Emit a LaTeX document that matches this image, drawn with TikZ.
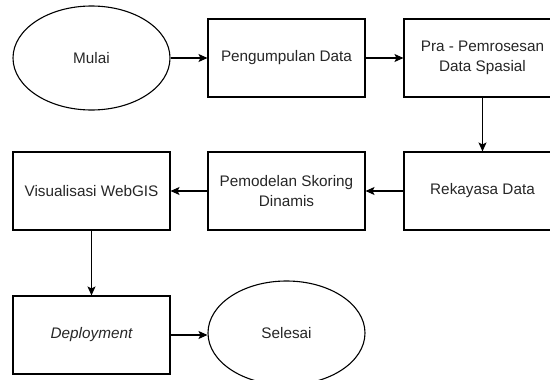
\documentclass[tikz,border=0pt]{standalone}
\usepackage{fontspec}
\setmainfont{Liberation Sans}
\usetikzlibrary{arrows.meta,shapes.geometric}
\begin{document}
\begin{tikzpicture}[x=1pt,y=-1pt,
  every node/.style={font=\fontsize{15.3}{19.5}\selectfont, text=black!85, align=center},
  procbox/.style={draw, line width=1.1pt, minimum width=157pt, minimum height=78pt, inner sep=0pt},
  terminal/.style={draw, ellipse, line width=1.1pt, minimum width=157pt, minimum height=104pt, inner sep=0pt},
  conn/.style={draw, line width=1.1pt, -{Stealth[length=9pt,width=8pt,inset=2pt]}}
]
\useasboundingbox (0,0) rectangle (550,380);
\node[terminal] (mulai) at (91.5,58) {Mulai};
\node[procbox] (kumpul) at (286.5,58) {Pengumpulan Data};
\node[procbox] (pra) at (482.5,58) {Pra - Pemrosesan\\Data Spasial};
\node[procbox] (rekayasa) at (482.5,191) {Rekayasa Data};
\node[procbox] (model) at (286.5,191) {Pemodelan Skoring\\Dinamis};
\node[procbox] (visual) at (91.5,191) {Visualisasi WebGIS};
\node[procbox] (deploy) at (91.5,335) {\itshape Deployment};
\node[terminal] (selesai) at (286.5,333) {Selesai};
\draw[conn] (mulai) -- (kumpul);
\draw[conn] (kumpul) -- (pra);
\draw[conn] (pra) -- (rekayasa);
\draw[conn] (rekayasa) -- (model);
\draw[conn] (model) -- (visual);
\draw[conn] (visual) -- (deploy);
\draw[conn] (deploy) -- (deploy -| selesai.west);
\end{tikzpicture}
\end{document}
